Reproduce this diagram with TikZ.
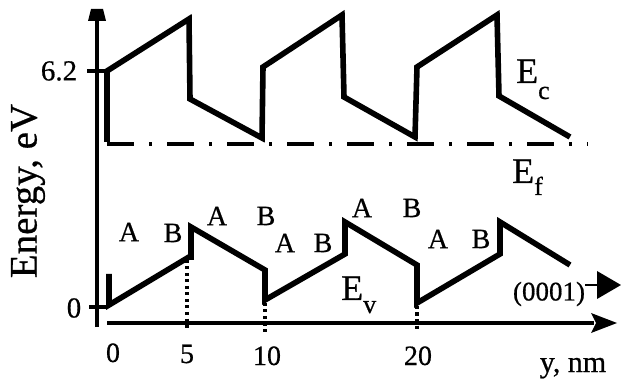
\documentclass[tikz,border=0pt]{standalone}
\usepackage{fontspec}
\setmainfont{Liberation Serif}[FakeBold=0.6]
\usetikzlibrary{arrows.meta}
\newcommand{\fsz}[1]{\fontsize{#1}{#1}\selectfont}
\tikzset{
  band/.style={line width=5.6pt, line join=miter, line cap=butt},
  axisline/.style={line width=3.2pt},
  fermi/.style={line width=3.4pt, dash pattern=on 27pt off 15pt on 3pt off 15pt},
  dropline/.style={line width=3.2pt, dash pattern=on 3pt off 3.5pt},
  lbl/.style={inner sep=0pt, font=\fsz{28}},
  tick/.style={inner sep=0pt, font=\fsz{28}, anchor=base},
}
\begin{document}
\begin{tikzpicture}[x=1pt,y=-1pt]
\useasboundingbox (0,0) rectangle (621,379);
% axes
\coordinate (yb) at (97,327);
\coordinate (yt) at (97,18);
\draw[axisline] (yb) -- (yt);
\fill (91,9) -- (103,9) -- (106,21) -- (88,21) -- cycle;
\coordinate (xl) at (107,323);
\coordinate (xr) at (594,323);
\draw[axisline] (xl) -- (xr);
\fill (591,313) -- (617,323) -- (591,333) -- (596,323) -- cycle;
% ticks
\coordinate (t6a) at (87,71); \coordinate (t6b) at (105,71);
\draw[axisline] (t6a) -- (t6b);
\coordinate (t0a) at (89,307); \coordinate (t0b) at (107,307);
\draw[axisline] (t0a) -- (t0b);
% conduction band
\draw[band] (107,142) -- (107,71) -- (189,19) -- (190,99) -- (262,138) -- (263,67) -- (342,15) -- (344,97) -- (415,137) -- (417,67) -- (497,15) -- (499,96) -- (570,137);
% Fermi level
\coordinate (fa) at (107,144); \coordinate (fb) at (588,144);
\draw[fermi] (fa) -- (fb);
% valence band
\draw[band] (109,274) -- (109,305) -- (189,257) -- (191,257) -- (191,227) -- (265,270) -- (265,300) -- (345,254) -- (345,222) -- (417,265) -- (417,303) -- (500,254) -- (500,222) -- (570,265);
% dotted drop lines
\draw[dropline] (187,260) -- (187,331);
\draw[dropline] (265,303) -- (265,334);
\draw[dropline] (417,306) -- (417,331);
% y labels
\node[lbl, font=\fsz{29}] (l62) at (59,71) {6.2};
\node[lbl, font=\fsz{29}] (l0) at (74,308) {0};
\node[lbl, font=\fsz{39}, rotate=90] (ylab) at (28,191) {Energy, eV};
% x labels
\node[tick] (x0) at (113,362) {0};
\node[tick] (x5) at (187,363) {5};
\node[tick] (x10) at (267,365) {10};
\node[tick] (x20) at (418,365) {20};
\node[tick, font=\fsz{30}] (xlab) at (573,372) {y, nm};
% A / B labels
\node[lbl] (a1) at (129,232) {A};
\node[lbl] (b1) at (173,233) {B};
\node[lbl] (a2) at (217,216) {A};
\node[lbl] (b2) at (266,216) {B};
\node[lbl] (a3) at (285,243) {A};
\node[lbl] (b3) at (323,243) {B};
\node[lbl] (a4) at (362,208) {A};
\node[lbl] (b4) at (412,208) {B};
\node[lbl] (a5) at (438,239) {A};
\node[lbl] (b5) at (481,239) {B};
% band labels
\node[inner sep=0pt, anchor=base west, font=\fsz{36}] (ec) at (516,83) {E\raisebox{-16pt}{\fsz{26}c}};
\node[inner sep=0pt, anchor=base west, font=\fsz{36}] (ef) at (512,183) {E\raisebox{-12pt}{\fsz{26}f}};
\node[inner sep=0pt, anchor=base west, font=\fsz{36}] (ev) at (341,300) {E\raisebox{-13pt}{\fsz{26}v}};
% (0001) direction
\node[inner sep=0pt, font=\fsz{27}] (dir) at (549,294) {(0001)};
\coordinate (dirend) at (600,285);
\draw[line width=2.4pt] (dir.east |- dirend) -- (dirend);
\fill (597,271) -- (621,285) -- (597,299) -- cycle;
\end{tikzpicture}
\end{document}
